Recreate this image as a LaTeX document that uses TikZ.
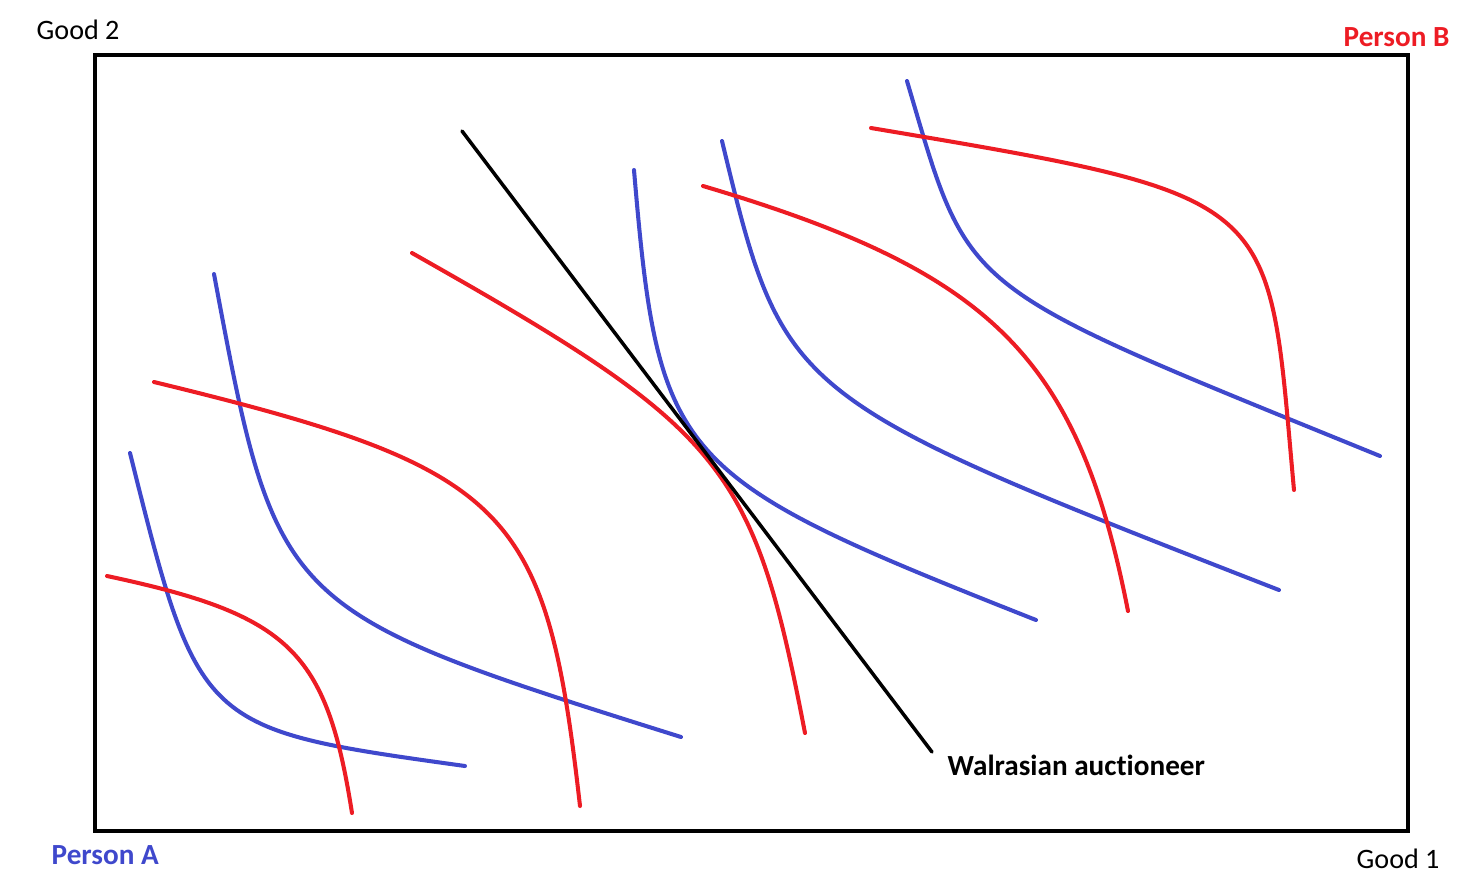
\documentclass[tikz,border=0pt]{standalone}
\usepackage{fontspec}
\setmainfont{Carlito}[Ligatures=NoCommon]
\definecolor{pred}{HTML}{ED1C24}
\definecolor{pblue}{HTML}{3F48CC}
\begin{document}
\begin{tikzpicture}[x=0.01cm,y=-0.01cm,
  acurve/.style={pblue,line width=1.15pt,line cap=round},
  bcurve/.style={pred,line width=1.15pt,line cap=round},
  lbl/.style={anchor=base west,inner sep=0pt,font=\fontsize{8}{9.6}\selectfont},
  blbl/.style={anchor=base west,inner sep=0pt,font=\fontsize{8.3}{10}\selectfont\bfseries}]
\useasboundingbox (0,0) rectangle (1465,890);
\draw[line width=1.15pt] (95,55) rectangle (1408,831);
% Person A indifference curves (blue)
\draw[acurve] (130,453) .. controls (199,729) and (199,729) .. (465,766);
\draw[acurve] (214,274) .. controls (277,610) and (277,610) .. (681,737);
\draw[acurve] (634,170) .. controls (659,463) and (672,476) .. (1036,620);
\draw[acurve] (722,141) .. controls (784,397) and (784,397) .. (1279,590);
\draw[acurve] (907,81) .. controls (971,297) and (953,282) .. (1380,456);
% Person B indifference curves (red)
\draw[bcurve] (107,576) .. controls (290,615) and (326.5,650.6) .. (352,813);
\draw[bcurve] (154,382) .. controls (512,469) and (546,506) .. (580,806);
\draw[bcurve] (412,253) .. controls (725,430) and (753,463) .. (805,733);
\draw[bcurve] (703,186) .. controls (993,272) and (1078,357) .. (1128,611);
\draw[bcurve] (871,128) .. controls (1287,198) and (1267,195) .. (1294,490);
% Walrasian auctioneer price line
\coordinate (p1) at (462,131);
\coordinate (p2) at (932,752);
\draw[line width=1pt,line cap=round] (p1) -- (p2);
% labels
\node[lbl] (good2) at (36,39) {Good 2};
\node[blbl,text=pred] (personB) at (1343,46) {Person B};
\node[blbl,text=pblue] (personA) at (51,864) {Person A};
\node[lbl] (good1) at (1356,868) {Good 1};
\node[blbl] (walras) at (947,775) {Walrasian auctioneer};
\end{tikzpicture}
\end{document}
